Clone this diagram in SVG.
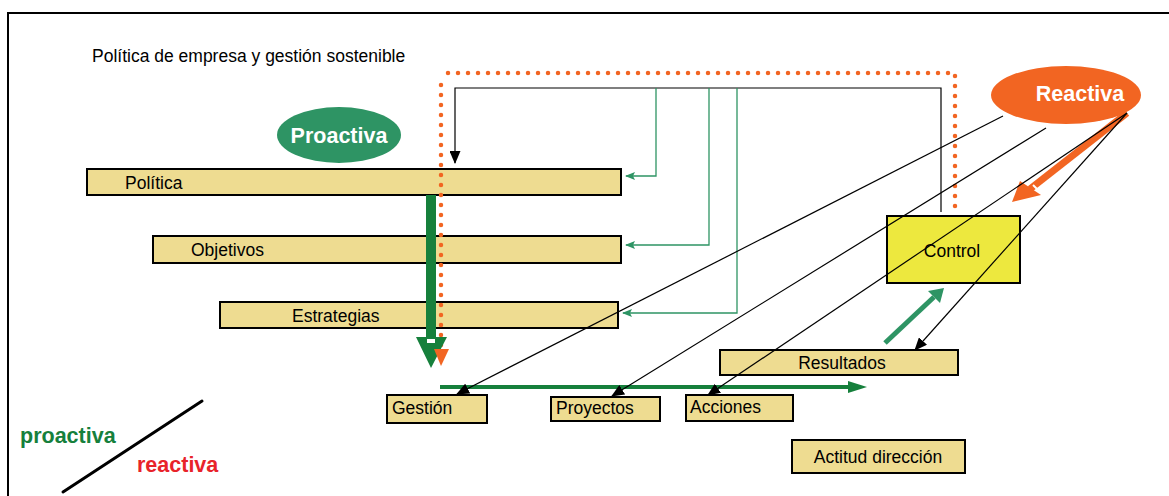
<svg xmlns="http://www.w3.org/2000/svg" width="1169" height="496" viewBox="0 0 1169 496">
<style>
.bar{fill:#eedc91;stroke:#000;stroke-width:2}
.lbl{font-family:"Liberation Sans",Arial,sans-serif;font-size:17.5px;fill:#000}
.thin{fill:none;stroke:#2e9464;stroke-width:1.3}
.blk{fill:none;stroke:#000;stroke-width:1.2}
.dot{fill:none;stroke:#f26522;stroke-width:4.5;stroke-linecap:round;stroke-dasharray:0 10}
.big{font-family:"Liberation Sans",Arial,sans-serif;font-weight:bold;fill:#fff;font-size:21.5px;text-anchor:middle}
</style>
<defs>
<marker id="ga" markerWidth="10" markerHeight="8" refX="9" refY="4" orient="auto" markerUnits="userSpaceOnUse"><path d="M0,0 L10,4 L0,8 L2,4 z" fill="#2e9464"/></marker>
<marker id="ba" markerWidth="13" markerHeight="11" refX="12" refY="5.5" orient="auto" markerUnits="userSpaceOnUse"><path d="M0,0 L13,5.5 L0,11 z" fill="#000"/></marker>
</defs>
<rect x="0" y="0" width="1169" height="496" fill="#fff"/>
<path d="M8,496 V13 H1169" fill="none" stroke="#000" stroke-width="2"/>
<text x="92" y="62" class="lbl" font-size="16.5">Política de empresa y gestión sostenible</text>

<g id="bar-politica"><rect class="bar" x="87" y="169" width="534" height="26"/><text class="lbl" x="125" y="189">Política</text></g>
<g id="bar-objetivos"><rect class="bar" x="153" y="236" width="468" height="27"/><text class="lbl" x="191" y="256">Objetivos</text></g>
<g id="bar-estrategias"><rect class="bar" x="220" y="302" width="398" height="26"/><text class="lbl" x="292" y="322">Estrategias</text></g>
<g id="control"><rect x="887" y="216" width="133" height="67" fill="#ede83e" stroke="#000" stroke-width="2"/><text class="lbl" x="952" y="257" text-anchor="middle">Control</text></g>
<g id="resultados"><rect class="bar" x="720" y="350" width="238" height="25"/><text class="lbl" x="842" y="369" text-anchor="middle">Resultados</text></g>
<g id="gestion"><rect class="bar" x="387" y="395" width="100" height="28"/><text class="lbl" x="392" y="414">Gestión</text></g>
<g id="proyectos"><rect class="bar" x="551" y="397" width="109" height="24"/><text class="lbl" x="556" y="414">Proyectos</text></g>
<g id="acciones"><rect class="bar" x="686" y="395" width="107" height="26"/><text class="lbl" x="690" y="413">Acciones</text></g>
<g id="actitud"><rect class="bar" x="792" y="440" width="173" height="33"/><text class="lbl" x="878" y="463" text-anchor="middle">Actitud dirección</text></g>

<g id="connectors">
<path class="dot" d="M441,345 V78 M448,73 H955 V212"/>
<path class="blk" d="M941,212 V88 H455 V163" marker-end="url(#ba)"/>
<path class="thin" d="M656,88 V176 H626" marker-end="url(#ga)"/>
<path class="thin" d="M709,88 V245 H626" marker-end="url(#ga)"/>
<path class="thin" d="M737,88 V313 H623" marker-end="url(#ga)"/>
<path d="M426,195 H436 V337 H447 L431,368 L416,337 H426 z" fill="#16803c"/>
<rect x="427" y="339" width="8" height="4" fill="#fff"/>
<path d="M434,349 H449 L441,366 z" fill="#f26522"/>
<line x1="440" y1="387" x2="850" y2="387" stroke="#16803c" stroke-width="4"/>
<path d="M848,381 L867,387 L848,393 z" fill="#16803c"/>
<line x1="885" y1="343" x2="934" y2="297" stroke="#2e9464" stroke-width="5"/>
<path d="M928,291 L944,288 L940,303 z" fill="#2e9464"/>
<line x1="1127" y1="113" x2="1030" y2="189" stroke="#f26522" stroke-width="7"/>
<path d="M1020,181 L1041,195 L1012,202 z" fill="#f26522"/>
<line x1="1033" y1="185" x2="1039" y2="191" stroke="#fff" stroke-width="2"/>
<line class="blk" x1="1003" y1="116" x2="457" y2="394" marker-end="url(#ba)"/>
<line class="blk" x1="1046" y1="128" x2="612" y2="396" marker-end="url(#ba)"/>
<line class="blk" x1="1127" y1="113" x2="708" y2="395" marker-end="url(#ba)"/>
<line class="blk" x1="1127" y1="113" x2="915" y2="350" marker-end="url(#ba)"/>
</g>

<g id="proactiva"><ellipse cx="339" cy="135" rx="62" ry="28" fill="#2e9464"/><text class="big" x="339" y="143">Proactiva</text></g>
<g id="reactiva"><ellipse cx="1066" cy="95" rx="75" ry="29" fill="#f26522"/><text class="big" x="1080" y="101">Reactiva</text></g>

<g id="legend">
<line x1="63" y1="492" x2="202" y2="401" stroke="#000" stroke-width="3" stroke-linecap="round"/>
<text x="20" y="443" font-family="Liberation Sans,Arial,sans-serif" font-weight="bold" font-size="21.5" fill="#16803c">proactiva</text>
<text x="137" y="472" font-family="Liberation Sans,Arial,sans-serif" font-weight="bold" font-size="21.5" fill="#e8232a">reactiva</text>
</g>
</svg>
